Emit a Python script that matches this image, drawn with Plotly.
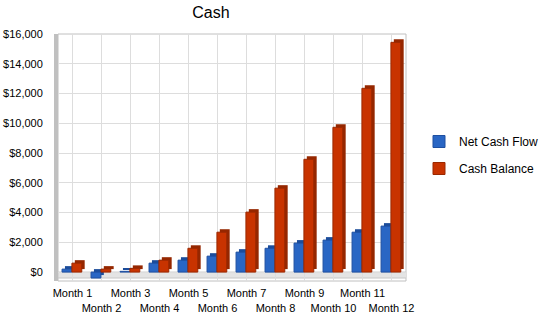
import plotly.graph_objects as go

months = ["Month %d" % i for i in range(1, 13)]
tick_text = [m if i % 2 == 0 else "<br>" + m for i, m in enumerate(months)]
net_cash_flow = [200, -400, 50, 600, 800, 1070, 1340, 1600, 1950, 2150, 2680, 3090]
cash_balance = [600, 200, 250, 800, 1600, 2680, 4030, 5640, 7580, 9730, 12350, 15440]

BLUE, BLUE_D, BLUE_L = "#2966C4", "#1B4C9A", "#1E4FA0"
RED, RED_D, RED_L = "#C83300", "#952700", "#9A2800"
DEPTH = 200          # vertical depth of the 3-D look, in y units
W = 0.34

fig = go.Figure()
# depth (side) bars drawn first
fig.add_trace(go.Bar(x=months, y=net_cash_flow, base=DEPTH, width=W, offset=-0.36 + 0.1,
                     marker=dict(color=BLUE_D, line=dict(width=0)), showlegend=False, hoverinfo="skip"))
fig.add_trace(go.Bar(x=months, y=net_cash_flow, width=W, offset=-0.36,
                     marker=dict(color=BLUE, line=dict(color=BLUE_L, width=1)),
                     name="Net Cash Flow", legendgroup="a"))
fig.add_trace(go.Bar(x=months, y=cash_balance, base=DEPTH, width=W, offset=-0.02 + 0.1,
                     marker=dict(color=RED_D, line=dict(width=0)), showlegend=False, hoverinfo="skip"))
fig.add_trace(go.Bar(x=months, y=cash_balance, width=W, offset=-0.02,
                     marker=dict(color=RED, line=dict(color=RED_L, width=1)),
                     name="Cash Balance", legendgroup="b"))

font = "Liberation Sans, Arial, sans-serif"
fig.update_layout(
    width=550, height=318,
    margin=dict(l=58, r=144, t=34, b=37),
    barmode="overlay",
    paper_bgcolor="white", plot_bgcolor="white",
    font=dict(family=font, size=12, color="#000000"),
    title=dict(text="Cash", x=211 / 550, xanchor="center", y=1 - 12 / 318, yanchor="middle",
               font=dict(size=16, family=font)),
    showlegend=True,
    legend=dict(xref="container", yref="container", x=419 / 550, y=1 - 127 / 318,
                xanchor="left", yanchor="top", tracegroupgap=8,
                font=dict(size=12, family=font), bgcolor="rgba(0,0,0,0)"),
    xaxis=dict(type="category", range=[-0.5, 11.5], tickmode="array", tickvals=months,
               ticktext=tick_text, tickangle=0, automargin=False,
               showgrid=True, gridcolor="#DDDDDD", gridwidth=1,
               ticks="outside", ticklen=2, tickcolor="rgba(0,0,0,0)",
               showline=False, zeroline=False, tickfont=dict(size=11)),
    yaxis=dict(range=[-600, 16000], tickvals=list(range(0, 16001, 2000)), automargin=False,
               tickformat="$,d", showgrid=True, gridcolor="#DDDDDD", gridwidth=1,
               zeroline=False, showline=True, linecolor="#C0C0C0", linewidth=4,
               ticks="outside", ticklen=9, tickcolor="rgba(0,0,0,0)", tickfont=dict(size=11)),
    shapes=[
        dict(type="rect", xref="x", yref="y", x0=-0.5, x1=11.6, y0=0, y1=-400,
             fillcolor="#E4E4E4", line=dict(color="#C8C8C8", width=1), layer="below"),
        dict(type="rect", xref="paper", yref="paper", x0=0, x1=1, y0=0, y1=1,
             line=dict(color="#C0C0C0", width=1), fillcolor="rgba(0,0,0,0)", layer="below"),
    ],
)

fig.write_html("out.html")
